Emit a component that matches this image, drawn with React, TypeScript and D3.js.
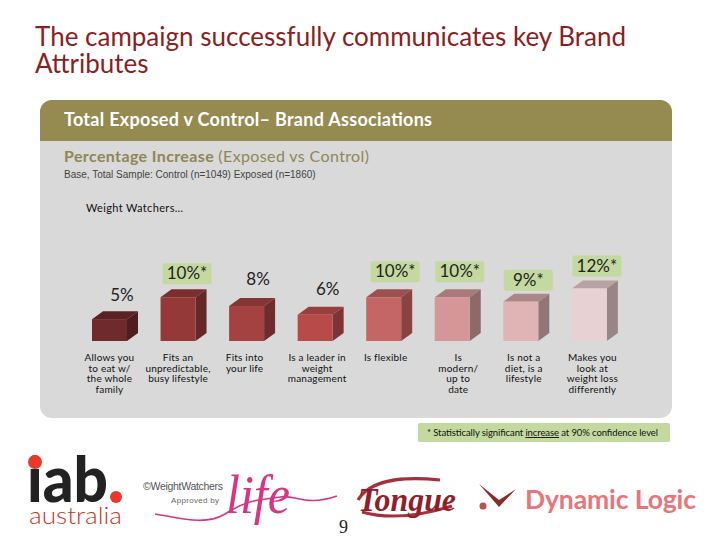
import React from "react";
import * as d3 from "d3";

const categories = ["Allows you to eat w/ the whole family","Fits an unpredictable, busy lifestyle","Fits into your life","Is a leader in weight management","Is flexible","Is modern/ up to date","Is not a diet, is a lifestyle","Makes you look at weight loss differently"];
const categoryLines = [["Allows you","to eat w/","the whole","family"],["Fits an","unpredictable,","busy lifestyle"],["Fits into","your life"],["Is a leader in","weight","management"],["Is flexible"],["Is","modern/","up to","date"],["Is not a","diet, is a","lifestyle"],["Makes you","look at","weight loss","differently"]];
const values = [5,10,8,6,10,10,9,12];
const significant = [false,true,false,false,true,true,true,true];

const frontPalette = ["#6f2b2b","#953838","#a44242","#b84a4a","#c56666","#d49696","#e0b4b4","#e8d1d3"];
const topPalette = ["#5a2222","#7a2e2e","#843535","#9a3f3f","#9c5050","#a87a7a","#aa8888","#b8a2a2"];
const sidePalette = ["#4c1e1e","#642828","#6e2c2c","#7e3434","#8a4242","#8f6868","#907676","#968686"];
const labelNudgeX = [30,26.5,29,30,29,25,25,25];
const labelNudgeY = [-18,-18,-21,-20,-20,-20,-16,-17];
const captionNudge = [0,0,-2,2,2,6,3,3];

const y = d3.scaleLinear().domain([0,12]).range([341,288.5]);
const DX = 11, DY = 8;
const line = d3.line();
const sans = "Lato, 'Open Sans', sans-serif";

export default function App() {
  const bw = 35;
  const bx = (i:number)=> 92 + i*68.55;
  return (
    <svg width={720} height={540} style={{position:"absolute",left:0,top:0,background:"#fff"}} fontFamily={sans}>
      <text x={35} y={46} fontSize={26} fill="#8a1f1f" textLength={591} lengthAdjust="spacing">The campaign successfully communicates key Brand</text>
      <text x={35} y={73} fontSize={26} fill="#8a1f1f">Attributes</text>

      <rect x={40} y={100} width={632} height={318} rx={12} fill="#d9d9d9"/>
      <path d="M40,141V112a12,12 0 0 1 12,-12H660a12,12 0 0 1 12,12V141Z" fill="#958a50"/>
      <text x={64} y={126} fontSize={18} fontWeight={700} fill="#fff" textLength={368}>Total Exposed v Control– Brand Associations</text>
      <text x={64} y={162} fontSize={16} fill="#8f8658" textLength={305}><tspan fontWeight={700}>Percentage Increase </tspan>(Exposed vs Control)</text>
      <text x={64} y={178} fontSize={10} fill="#444" fontFamily="Liberation Sans">Base, Total Sample: Control (n=1049) Exposed (n=1860)</text>
      <text x={86} y={212} fontSize={11} fill="#111" textLength={97}>Weight Watchers…</text>

      {values.map((v,i)=>{
        const x0 = bx(i), x1 = x0+bw, t = y(v), b = y(0);
        const top = line([[x0,t],[x0+DX,t-DY],[x1+DX,t-DY],[x1,t]])+"Z";
        const side = line([[x1,t],[x1+DX,t-DY],[x1+DX,b-DY],[x1,b]])+"Z";
        const cx = x0+labelNudgeX[i], by = t+labelNudgeY[i];
        return (
          <g key={categories[i]}>
            <path d={top} fill={topPalette[i]}/>
            <path d={side} fill={sidePalette[i]}/>
            <rect x={x0} y={t} width={bw} height={b-t} fill={frontPalette[i]}/>
            {significant[i] && <rect x={cx-24.5} y={by-16} width={49} height={21} rx={2} fill="#c4d9a0"/>}
            <text x={cx} y={by} textAnchor="middle" fontSize={17} fill="#222">{v}%{significant[i]?"*":""}</text>
            <text textAnchor="middle" fontSize={10} fill="#111" style={{letterSpacing:0.2}}>
              {categoryLines[i].map((l,k)=><tspan key={k} x={x0+bw/2+captionNudge[i]} y={361+k*10.7}>{l}</tspan>)}
            </text>
          </g>
        );
      })}

      <rect x={418} y={423} width={252} height={19} rx={2} fill="#c4d9a0"/>
      <text x={427} y={436} fontSize={9.5} fill="#111" textLength={231}>* Statistically significant <tspan textDecoration="underline">increase</tspan> at 90% confidence level</text>

      {/* logos */}
      <text x={27} y={502} fontSize={62} fontWeight={900} fill="#222" textLength={81} lengthAdjust="spacingAndGlyphs">iab</text>
      <circle cx={35} cy={462} r={7} fill="#e8392a"/>
      <circle cx={116} cy={497} r={6} fill="#e8392a"/>
      <text x={29} y={524} fontSize={24} fontWeight={300} fill="#c4392c" textLength={93} lengthAdjust="spacingAndGlyphs">australia</text>

      <text x={143} y={490} fontSize={10.5} fill="#555" fontFamily="'Liberation Sans'" textLength={80}>©WeightWatchers</text>
      <text x={171} y={503} fontSize={8} fill="#666" fontFamily="'Liberation Sans'" textLength={48}>Approved by</text>
      <path d="M155,514C180,518 205,526 225,514C250,498 262,500 280,497C295,494 305,507 337,496" fill="none" stroke="#d9347f" strokeWidth={1.6}/>
      <text x={226} y={513} fontSize={54} fontStyle="italic" fill="#d9347f" fontFamily="'Liberation Serif'" textLength={64} lengthAdjust="spacingAndGlyphs">life</text>

      <path d="M358,500C370,480 400,476 440,480M362,512C390,520 420,516 452,506" fill="none" stroke="#a5303a" strokeWidth={3}/>
      <text x={358} y={511} fontSize={33} fontWeight={700} fontStyle="italic" fill="#8f1f2a" fontFamily="'Liberation Serif'" textLength={98} lengthAdjust="spacingAndGlyphs">Tongue</text>
      <path d="M479,484L499,507L516,489L499,500Z" fill="#8a2c2c"/>
      <circle cx={483} cy={506} r={3.5} fill="#b85050"/>
      <text x={525} y={509} fontSize={26.5} fontWeight={700} fill="#e8757a" textLength={171}>Dynamic Logic</text>

      <text x={339} y={533} fontSize={18} fill="#222" fontFamily="'Liberation Serif'">9</text>
    </svg>
  );
}
